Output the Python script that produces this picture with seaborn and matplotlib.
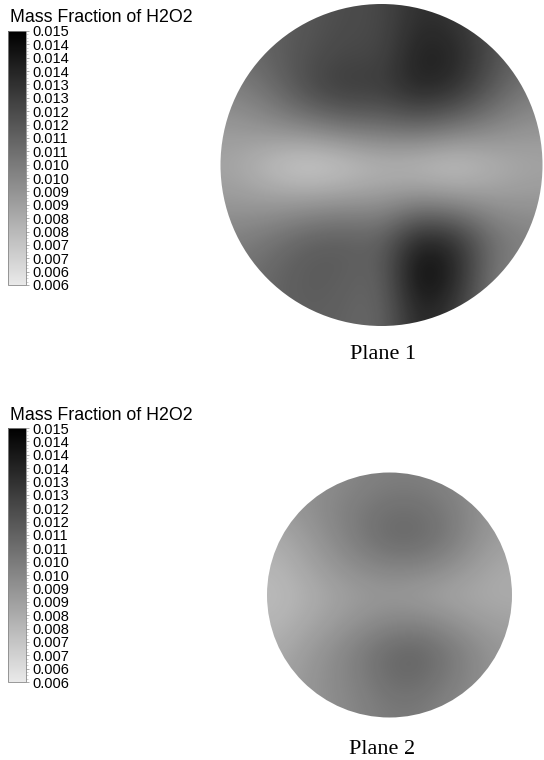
import numpy as np
import matplotlib
matplotlib.use("Agg")
import matplotlib.pyplot as plt
import seaborn as sns
from matplotlib.patches import Circle

# mass fraction contours on two planes (9x9 grid, top row first)
sns.set_style("white")
plt.rcParams["text.color"] = "black"
plt.rcParams["ytick.labelcolor"] = "black"

vmin = 0.00575
vmax = 0.0150
cbar_title = "Mass Fraction of H2O2"
tick_labels = ["0.015", "0.014", "0.014", "0.014", "0.013", "0.013", "0.012", "0.012",
               "0.011", "0.011", "0.010", "0.010", "0.009", "0.009", "0.008", "0.008",
               "0.007", "0.007", "0.006", "0.006"]
plane_names = ["Plane 1", "Plane 2"]

plane1_field = [
    [0.0106, 0.0111, 0.0116, 0.0120, 0.0121, 0.0132, 0.0129, 0.0118, 0.0108],
    [0.0106, 0.0112, 0.0118, 0.0122, 0.0121, 0.0138, 0.0136, 0.0120, 0.0108],
    [0.0098, 0.0106, 0.0121, 0.0128, 0.0126, 0.0136, 0.0131, 0.0114, 0.0101],
    [0.0089, 0.0093, 0.0097, 0.0103, 0.0105, 0.0108, 0.0102, 0.0096, 0.0091],
    [0.0084, 0.0073, 0.0066, 0.0070, 0.0076, 0.0073, 0.0070, 0.0078, 0.0084],
    [0.0089, 0.0088, 0.0089, 0.0091, 0.0091, 0.0096, 0.0093, 0.0090, 0.0090],
    [0.0099, 0.0104, 0.0112, 0.0114, 0.0111, 0.0137, 0.0132, 0.0106, 0.0099],
    [0.0104, 0.0110, 0.0115, 0.0113, 0.0109, 0.0149, 0.0137, 0.0102, 0.0097],
    [0.0104, 0.0110, 0.0113, 0.0111, 0.0108, 0.0137, 0.0127, 0.0102, 0.0097],
]

plane2_field = [
    [0.0090, 0.0092, 0.0095, 0.0098, 0.0100, 0.0100, 0.0098, 0.0094, 0.0090],
    [0.0088, 0.0092, 0.0097, 0.0102, 0.0106, 0.0106, 0.0102, 0.0095, 0.0089],
    [0.0082, 0.0088, 0.0095, 0.0102, 0.0108, 0.0108, 0.0103, 0.0094, 0.0087],
    [0.0078, 0.0084, 0.0090, 0.0095, 0.0098, 0.0098, 0.0094, 0.0088, 0.0083],
    [0.0076, 0.0080, 0.0085, 0.0088, 0.0089, 0.0087, 0.0085, 0.0083, 0.0082],
    [0.0078, 0.0083, 0.0088, 0.0093, 0.0097, 0.0098, 0.0094, 0.0089, 0.0086],
    [0.0082, 0.0088, 0.0094, 0.0101, 0.0108, 0.0110, 0.0104, 0.0096, 0.0090],
    [0.0085, 0.0090, 0.0095, 0.0100, 0.0107, 0.0108, 0.0102, 0.0096, 0.0090],
    [0.0088, 0.0090, 0.0094, 0.0098, 0.0102, 0.0102, 0.0098, 0.0094, 0.0090],
]

cmap = sns.blend_palette(["#e9e9e9", "#000000"], as_cmap=True)

W, H = 544, 760
fig = plt.figure(figsize=(W / 100, H / 100), dpi=100)
fig.patch.set_facecolor("white")


def px_box(x0, y0, x1, y1):
    # pixel box -> figure fraction [left, bottom, width, height]
    return [x0 / W, 1 - y1 / H, (x1 - x0) / W, (y1 - y0) / H]


panels = [
    # field, circle center/radius, colorbar top, title y, plane label pos
    (plane1_field, (381.5, 165, 161), 31, 18, (383, 355)),
    (plane2_field, (389.5, 595, 122.5), 428, 415, (382, 750)),
]

for i, (field, (cx, cy, r), bar_top, title_y, (lx, ly)) in enumerate(panels):
    ax = fig.add_axes(px_box(cx - r - 3, cy - r - 3, cx + r + 3, cy + r + 3))
    im = ax.imshow(np.array(field), extent=(-1.03, 1.03, -1.03, 1.03), origin="upper",
                   interpolation="bicubic", cmap=cmap, vmin=vmin, vmax=vmax)
    im.set_clip_path(Circle((0, 0), 1, transform=ax.transData))
    pad = 3 / r
    ax.set_xlim(-1 - pad, 1 + pad)
    ax.set_ylim(-1 - pad, 1 + pad)
    ax.axis("off")

    cax = fig.add_axes(px_box(8, bar_top, 26, bar_top + 254))
    cb = fig.colorbar(im, cax=cax, ticks=np.linspace(vmax, vmin, len(tick_labels)))
    cb.set_ticklabels(tick_labels)
    cb.outline.set_linewidth(0.6)
    cb.outline.set_edgecolor("#888888")
    cax.minorticks_on()
    cax.tick_params(which="major", length=2.5, width=0.5, pad=2, color="#888888",
                    labelsize=10.5, labelcolor="black", labelfontfamily="Liberation Sans")
    cax.tick_params(which="minor", length=1.2, width=0.4, color="#aaaaaa")

    fig.text(10 / W, 1 - title_y / H, cbar_title, fontsize=12.8, color="black",
             family="Liberation Sans", va="center", ha="left")
    fig.text(lx / W, 1 - ly / H, plane_names[i], fontsize=16, color="black",
             family="Liberation Serif", va="center", ha="center")

fig.savefig("out.png", dpi=100, facecolor="white")
